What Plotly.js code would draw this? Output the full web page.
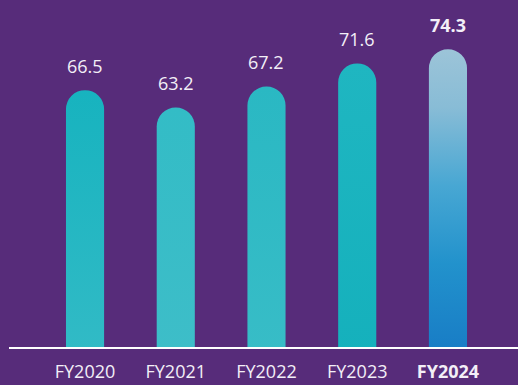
<!DOCTYPE html>
<html>
<head>
<meta charset="utf-8">
<script src="https://cdn.plot.ly/plotly-3.0.1.min.js"></script>
<style>
html,body{margin:0;padding:0;background:#572c7a;}
#chart{width:518px;height:385px;}
</style>
</head>
<body>
<div id="chart"></div>
<script>
// Data
const categories = ['FY2020', 'FY2021', 'FY2022', 'FY2023', 'FY2024'];
const values = [66.5, 63.2, 67.2, 71.6, 74.3];
const valueLabels = ['66.5', '63.2', '67.2', '71.6', '74.3'];
const tickLabels = ['FY2020', 'FY2021', 'FY2022', 'FY2023', '<b>FY2024</b>'];

// Styles
const bg = '#572c7a';
const textColor = '#f3eff7';
const barColors = ['#22b6c1', '#36bbc6', '#30b9c4', '#1ab3be', '#2d93cc'];
const gradients = [
  [['0%', '#17b3bf'], ['100%', '#3abdc8']],
  [['0%', '#33bcc6'], ['100%', '#41bec9']],
  [['0%', '#2ab8c3'], ['100%', '#3cbec8']],
  [['0%', '#1fb6c1'], ['100%', '#12afbb']],
  [['0%', '#9cc4d8'], ['15%', '#88bcd6'], ['35%', '#48a7d3'], ['55%', '#2292cc'], ['80%', '#177ac5'], ['100%', '#1370bf']]
];

const trace = {
  type: 'bar',
  x: categories,
  y: values,
  marker: {color: barColors, cornerradius: '50%', line: {width: 0}},
  hoverinfo: 'none'
};

const annotations = categories.map((c, i) => ({
  x: c, y: values[i], xref: 'x', yref: 'y',
  text: i === categories.length - 1 ? '<b>' + valueLabels[i] + '</b>' : valueLabels[i],
  showarrow: false, yanchor: 'bottom', yshift: 10,
  font: {family: 'Open Sans, sans-serif', size: 18, color: textColor}
}));

const layout = {
  width: 518, height: 385,
  paper_bgcolor: bg, plot_bgcolor: bg,
  margin: {l: 9, r: 0, t: 0, b: 38},
  bargap: 0.58,
  showlegend: false,
  xaxis: {
    type: 'category',
    range: [-0.838, 4.772],
    tickvals: categories, ticktext: tickLabels,
    showline: true, linecolor: '#ffffff', linewidth: 2,
    showgrid: false, zeroline: false, ticks: '',
    ticklabelstandoff: 7,
    tickfont: {family: 'Open Sans, sans-serif', size: 18, color: textColor},
    fixedrange: true
  },
  yaxis: {
    range: [17.5, 83.7],
    visible: false, showgrid: false, zeroline: false,
    fixedrange: true
  },
  annotations: annotations
};

Plotly.newPlot('chart', [trace], layout, {displayModeBar: false, staticPlot: true}).then(gd => {
  const svgNS = 'http://www.w3.org/2000/svg';
  const svg = gd.querySelector('svg.main-svg');
  let defs = document.createElementNS(svgNS, 'defs');
  svg.insertBefore(defs, svg.firstChild);
  gradients.forEach((stops, i) => {
    const lg = document.createElementNS(svgNS, 'linearGradient');
    lg.setAttribute('id', 'barGrad' + i);
    lg.setAttribute('x1', '0'); lg.setAttribute('y1', '0');
    lg.setAttribute('x2', '0'); lg.setAttribute('y2', '1');
    stops.forEach(s => {
      const st = document.createElementNS(svgNS, 'stop');
      st.setAttribute('offset', s[0]);
      st.setAttribute('stop-color', s[1]);
      lg.appendChild(st);
    });
    defs.appendChild(lg);
  });
  const paths = gd.querySelectorAll('.bars .point path');
  paths.forEach((p, i) => {
    p.style.setProperty('fill', 'url(#barGrad' + i + ')');
  });
});
</script>
</body>
</html>
